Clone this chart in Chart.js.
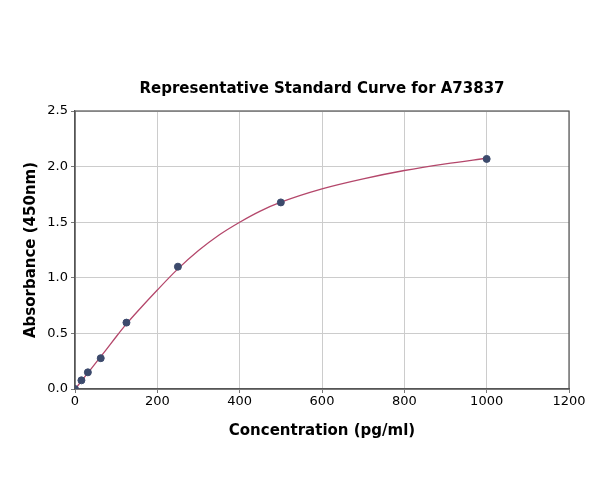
<!DOCTYPE html>
<html>
<head>
<meta charset="utf-8">
<script src="https://cdn.jsdelivr.net/npm/chart.js@4.4.1/dist/chart.umd.min.js"></script>
<style>
  html, body { margin: 0; padding: 0; background: #fff; }
  #wrap { width: 600px; height: 500px; }
</style>
</head>
<body>
<div id="wrap"><canvas id="chart"></canvas></div>
<script>
// standards
const stdConc = [0, 15.6, 31.25, 62.5, 125, 250, 500, 1000];
const stdAbs = [0, 0.078, 0.15, 0.277, 0.597, 1.10, 1.678, 2.069];

// fitted curve, sampled from the drawn line
const curveX = [0, 10, 25, 50, 75, 100, 125, 150, 200, 250, 300, 350, 400, 450, 500, 600, 700, 800, 900, 1000];
const curveY = [0, 0.045, 0.115, 0.232, 0.35, 0.47, 0.585, 0.69, 0.89, 1.08, 1.245, 1.385, 1.50, 1.60, 1.68, 1.80, 1.89, 1.965, 2.025, 2.075];

const xTicks = [0, 200, 400, 600, 800, 1000, 1200];
const yTicks = [0, 0.5, 1.0, 1.5, 2.0, 2.5];

const FONT = "'DejaVu Sans', sans-serif";

const toPts = (xs, ys) => xs.map((x, i) => ({ x: x, y: ys[i] }));

// move the title over the plot area, and draw the box round it
const framePlugin = {
    id: "frame",
    afterLayout(chart) {
        if (chart.titleBlock) {
            chart.titleBlock.left = chart.chartArea.left;
            chart.titleBlock.right = chart.chartArea.right;
        }
    },
    beforeDatasetsDraw(chart) {
        const a = chart.chartArea;
        const ctx = chart.ctx;
        ctx.save();
        ctx.strokeStyle = "#555555";
        ctx.lineWidth = 1.2;
        ctx.strokeRect(a.left, a.top, a.right - a.left, a.bottom - a.top);
        ctx.restore();
    }
};

new Chart(document.getElementById("chart"), {
    type: "scatter",
    data: {
        datasets: [
            {
                label: "fit",
                data: toPts(curveX, curveY),
                showLine: true,
                borderColor: "#b4476b",
                borderWidth: 1.3,
                pointRadius: 0,
                cubicInterpolationMode: "monotone",
                order: 2
            },
            {
                label: "standards",
                data: toPts(stdConc, stdAbs),
                showLine: false,
                backgroundColor: "#3c4a6c",
                borderColor: "#3c4a6c",
                pointRadius: 3.5,
                order: 1
            }
        ]
    },
    options: {
        responsive: true,
        maintainAspectRatio: false,
        animation: false,
        layout: { padding: { left: 0, right: 31, top: 0, bottom: 0 } },
        plugins: {
            legend: { display: false },
            tooltip: { enabled: false },
            title: {
                display: true,
                text: "Representative Standard Curve for A73837",
                color: "#000",
                font: { family: FONT, size: 15, weight: "bold" },
                padding: { top: 80, bottom: 13 }
            }
        },
        scales: {
            x: {
                type: "linear",
                min: 0,
                max: 1200,
                afterBuildTicks: (s) => { s.ticks = xTicks.map(v => ({ value: v })); },
                afterFit: (s) => { s.height = 111; },
                grid: { color: "#cccccc", tickColor: "#777777", tickLength: 4, lineWidth: 1 },
                border: { color: "#555555", width: 1.2 },
                ticks: {
                    color: "#000",
                    font: { family: FONT, size: 13 },
                    padding: 1,
                    maxRotation: 0,
                    callback: (v) => String(v)
                },
                title: {
                    display: true,
                    text: "Concentration (pg/ml)",
                    color: "#000",
                    font: { family: FONT, size: 15, weight: "bold" },
                    padding: { top: 10, bottom: 59.5 }
                }
            },
            y: {
                type: "linear",
                min: 0,
                max: 2.5,
                afterBuildTicks: (s) => { s.ticks = yTicks.map(v => ({ value: v })); },
                afterFit: (s) => { s.width = 75; },
                grid: { color: "#cccccc", tickColor: "#777777", tickLength: 4, lineWidth: 1 },
                border: { color: "#555555", width: 1.2 },
                ticks: {
                    color: "#000",
                    font: { family: FONT, size: 13 },
                    padding: 3,
                    callback: (v) => Number(v).toFixed(1)
                },
                title: {
                    display: true,
                    text: "Absorbance (450nm)",
                    color: "#000",
                    font: { family: FONT, size: 15, weight: "bold" },
                    padding: { top: 22.5, bottom: 6 }
                }
            }
        }
    },
    plugins: [framePlugin]
});
</script>
</body>
</html>
